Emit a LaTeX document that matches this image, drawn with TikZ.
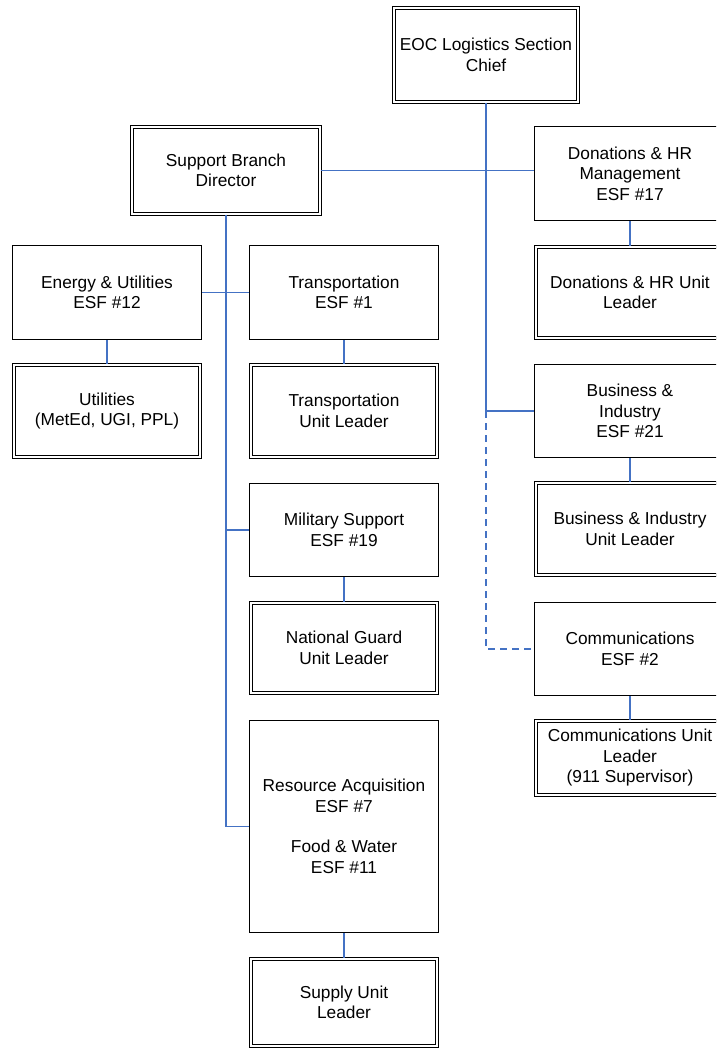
\documentclass[tikz,border=0pt]{standalone}
\usepackage{fontspec}
\setmainfont{Liberation Sans}
\definecolor{linkblue}{RGB}{68,114,196}
\tikzset{
  x=1pt, y=-1pt,
  every node/.style={font=\fontsize{17.3}{20.5}\selectfont, align=center, inner sep=0pt},
  box/.style={draw=black, line width=1.4pt, rectangle, minimum width=#1-1.4pt},
  box/.default=190pt,
  dbox/.style={draw=black, double, double distance=1.6pt, line width=1.1pt, rectangle, minimum width=#1-3.8pt},
  dbox/.default=190pt,
  link/.style={draw=linkblue, line width=1.2pt},
  dlink/.style={draw=linkblue, line width=1.2pt, dash pattern=on 7pt off 5pt},
}
\begin{document}
\begin{tikzpicture}
\path[use as bounding box, clip] (0,0) rectangle (716,1049);
\fill[white] (0,0) rectangle (716,1049);

% Section chief and branch level
\node[dbox=188pt, minimum height=94pt] (eoc) at (486,55) {EOC Logistics Section\\Chief};
\node[dbox=192pt, minimum height=87pt] (sbd) at (226,170.5) {Support Branch\\Director};

% Right column
\node[box=192pt, minimum height=93.6pt] (don) at (630,173.5) {Donations \& HR\\Management\\ESF \#17};
\node[dbox=192pt, minimum height=91pt] (donul) at (630,292.5) {Donations \& HR Unit\\Leader};
\node[box=192pt, minimum height=92.6pt] (bus) at (630,411) {Business \&\\Industry\\ESF \#21};
\node[dbox=192pt, minimum height=92pt] (busul) at (630,529) {Business \& Industry\\Unit Leader};
\node[box=192pt, minimum height=92.6pt] (com) at (630,649) {Communications\\ESF \#2};
\node[dbox=192pt, minimum height=74pt] (comul) at (630,758) {Communications Unit\\Leader\\(911 Supervisor)};

% Left columns
\node[box, minimum height=93.6pt] (ene) at (107,292.5) {Energy \& Utilities\\ESF \#12};
\node[dbox, minimum height=92pt] (uti) at (107,411) {Utilities\\(MetEd, UGI, PPL)};
\node[box, minimum height=93.6pt] (tra) at (344,292.5) {Transportation\\ESF \#1};
\node[dbox, minimum height=92pt] (traul) at (344,411) {Transportation\\Unit Leader};
\node[box, minimum height=92.6pt] (mil) at (344,530) {Military Support\\ESF \#19};
\node[dbox, minimum height=90pt] (ng) at (344,648) {National Guard\\Unit Leader};
\node[box, minimum height=211.6pt] (res) at (344,826.5) {Resource Acquisition\\ESF \#7\\[20pt]Food \& Water\\ESF \#11};
\node[dbox, minimum height=87pt] (sul) at (344,1002.5) {Supply Unit\\Leader};

% Connectors from the section chief
\coordinate (busj) at (eoc.south |- bus.west);
\coordinate (comj) at (eoc.south |- com.west);
\path[link] (eoc.south) -- (busj) -- (bus.west);
\path[dlink] (busj) -- (comj) -- (com.west);
\path[link] (sbd.east) -- (sbd.east -| don.west);

% Connectors from the support branch
\coordinate (resj) at (sbd.south |- res.west);
\path[link] (sbd.south) -- (resj) -- (res.west);
\path[link] (ene.east) -- (tra.west);
\path[link] (sbd.south |- mil.west) -- (mil.west);

% Unit leader links
\path[link] (don.south) -- (donul.north);
\path[link] (bus.south) -- (busul.north);
\path[link] (com.south) -- (comul.north);
\path[link] (ene.south) -- (uti.north);
\path[link] (tra.south) -- (traul.north);
\path[link] (mil.south) -- (ng.north);
\path[link] (res.south) -- (sul.north);
\end{tikzpicture}
\end{document}
